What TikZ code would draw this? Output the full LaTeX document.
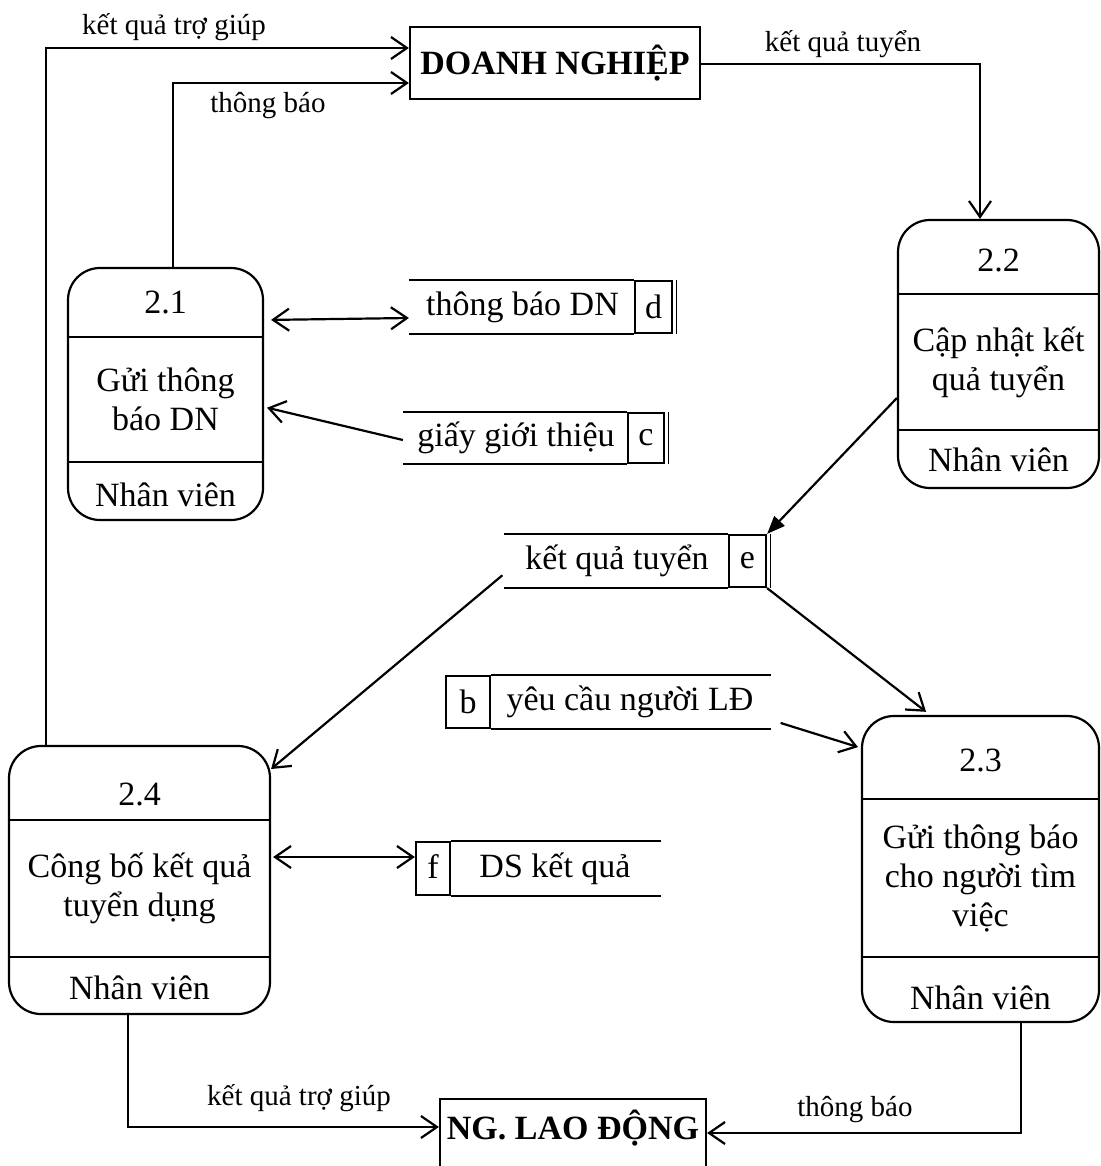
\documentclass[tikz,border=0pt]{standalone}
\usepackage{fontspec}
\setmainfont{Liberation Serif}
\usetikzlibrary{arrows.meta}
\begin{document}
\begin{tikzpicture}[x=1pt,y=-1pt, line width=2.2pt,
  big/.style={font=\fontsize{34}{39}\selectfont, inner sep=0pt},
  lbl/.style={font=\fontsize{29}{33}\selectfont, inner sep=0pt},
  proc/.style={draw, rounded corners=32pt, inner sep=0pt},
  ptext/.style={font=\fontsize{34}{39}\selectfont, align=center, inner sep=0pt},
  ext/.style={draw, inner sep=0pt, font=\bfseries\fontsize{34}{39}\selectfont},
  storetext/.style={font=\fontsize{34}{39}\selectfont, inner sep=0pt, minimum height=52pt},
  idbox/.style={draw, inner sep=0pt, font=\fontsize{34}{39}\selectfont, minimum height=52pt},
  barb/.tip={Straight Barb[length=16pt,width=22pt]},
  flow/.style={-barb},
  bflow/.style={barb-barb},
  fflow/.style={-{Triangle[length=18pt,width=14pt]}}
]
\clip (0,0) rectangle (1100,1166);
\fill[white] (0,0) rectangle (1100,1166);

% external entities
\node[ext, minimum width=290pt, minimum height=72pt] (dn) at (555,63) {DOANH NGHIỆP};
\node[ext, minimum width=266pt, minimum height=76pt, anchor=north] (ng) at (573,1098) {};
\node[font=\bfseries\fontsize{34}{39}\selectfont, inner sep=0pt] (ngt) at (573,1128) {NG. LAO ĐỘNG};

% process 2.1
\node[proc, minimum width=195pt, minimum height=252pt] (p21) at (165.5,394) {};
\draw (p21.west |- 0,337) -- (p21.east |- 0,337);
\draw (p21.west |- 0,462) -- (p21.east |- 0,462);
\node[ptext] (p21a) at (165.5,302) {2.1};
\node[ptext] (p21b) at (165.5,399) {Gửi thông\\báo DN};
\node[ptext] (p21c) at (165.5,495) {Nhân viên};

% process 2.2
\node[proc, minimum width=201pt, minimum height=268pt] (p22) at (998.5,354) {};
\draw (p22.west |- 0,294) -- (p22.east |- 0,294);
\draw (p22.west |- 0,430) -- (p22.east |- 0,430);
\node[ptext] (p22a) at (998.5,260) {2.2};
\node[ptext] (p22b) at (998.5,362) {Cập nhật kết\\quả tuyển};
\node[ptext] (p22c) at (998.5,460) {Nhân viên};

% process 2.3
\node[proc, minimum width=237pt, minimum height=306pt] (p23) at (980.5,869) {};
\draw (p23.west |- 0,799) -- (p23.east |- 0,799);
\draw (p23.west |- 0,957) -- (p23.east |- 0,957);
\node[ptext] (p23a) at (980.5,760) {2.3};
\node[ptext] (p23b) at (980.5,878) {Gửi thông báo\\cho người tìm\\việc};
\node[ptext] (p23c) at (980.5,998) {Nhân viên};

% process 2.4
\node[proc, minimum width=261pt, minimum height=268pt] (p24) at (139.5,880) {};
\draw (p24.west |- 0,820) -- (p24.east |- 0,820);
\draw (p24.west |- 0,957) -- (p24.east |- 0,957);
\node[ptext] (p24a) at (139.5,794) {2.4};
\node[ptext] (p24b) at (139.5,888) {Công bố kết quả\\tuyển dụng};
\node[ptext] (p24c) at (139.5,988) {Nhân viên};

% store d
\node[storetext, minimum width=225pt] (sd) at (522.5,307) {thông báo DN};
\node[idbox, minimum width=37pt] (id) at (653.5,307) {d};
\draw (sd.north west) -- (id.north west);
\draw (sd.south west) -- (id.south west);
\draw[line width=1.2pt] ([xshift=3pt]id.north east) -- ([xshift=3pt]id.south east);

% store c
\node[storetext, minimum width=224pt, minimum height=50pt] (sc) at (516,438) {giấy giới thiệu};
\node[idbox, minimum width=36pt, minimum height=50pt] (ic) at (646,438) {c};
\draw (sc.north west) -- (ic.north west);
\draw (sc.south west) -- (ic.south west);
\draw[line width=1.2pt] ([xshift=3pt]ic.north east) -- ([xshift=3pt]ic.south east);

% store e
\node[storetext, minimum width=224pt] (se) at (617,561) {kết quả tuyển};
\node[idbox, minimum width=37pt] (ie) at (747.5,561) {e};
\draw (se.north west) -- (ie.north west);
\draw (se.south west) -- (ie.south west);
\draw[line width=1.2pt] ([xshift=3pt]ie.north east) -- ([xshift=3pt]ie.south east);

% store b
\node[idbox, minimum width=44pt] (ib) at (468,702) {b};
\node[storetext, minimum width=280pt] (sb) at (630,702) {yêu cầu người LĐ};
\draw (ib.north east) -- (sb.north east);
\draw (ib.south east) -- (sb.south east);

% store f
\node[idbox, minimum width=34pt, minimum height=53pt] (iff) at (433,868.5) {\raisebox{4pt}{f}};
\node[storetext, minimum width=210pt, minimum height=53pt] (sf) at (555,868.5) {DS kết quả};
\draw (iff.north east) -- (sf.north east);
\draw (iff.south east) -- (sf.south east);

% flows
\draw[flow] (p24.north -| 46,0) |- (dn.west |- 0,48);
\node[lbl] (l1) at (174,27) {kết quả trợ giúp};
\draw[flow] (p21.north -| 173,0) |- (dn.west |- 0,83);
\node[lbl] (l2) at (268,106) {thông báo};
\draw[flow] (dn.east |- 0,64) -| (p22.north -| 980,0);
\node[lbl] (l3) at (843,44) {kết quả tuyển};

\draw[bflow, shorten <=7pt] (p21.east |- 0,320) -- (sd.west |- 0,318);
\draw[flow, shorten >=3pt] (sc.west |- 0,440) -- (p21.east |- 0,407);
\draw[fflow] (p22.west |- 0,398) -- (ie.north east);
\draw[flow, shorten >=5pt] (ie.south east) -- (p23.north -| 930,0);
\draw[flow, shorten <=2pt] (se.west |- 0,574) -- (p24.east |- 0,769);
\draw[flow, shorten <=10pt, shorten >=3pt] (sb.east |- 0,720) -- (p23.west |- 0,748);
\draw[bflow, shorten <=2pt] (p24.east |- 0,857) -- (iff.west |- 0,857);

\draw[flow] (p24.south -| 128,0) |- (ng.west |- 0,1127);
\node[lbl] (l4) at (299,1098) {kết quả trợ giúp};
\draw[flow] (p23.south -| 1021,0) |- (ng.east |- 0,1133);
\node[lbl] (l5) at (855,1110) {thông báo};
\end{tikzpicture}
\end{document}
